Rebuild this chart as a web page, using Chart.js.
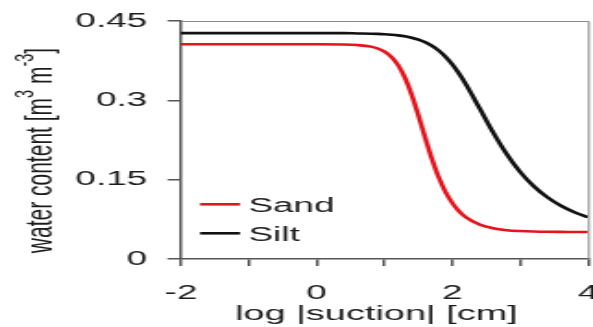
<!DOCTYPE html>
<html><head><meta charset="utf-8">
<style>
html,body{margin:0;padding:0;background:#fff;overflow:hidden}
</style>
<script src="https://cdn.jsdelivr.net/npm/chart.js@4/dist/chart.umd.min.js"></script>
</head><body>
<canvas id="c" width="321" height="327" style="display:block;width:593px;height:327px"></canvas>
<script>
// ---- data ----
const logSuction = [-2, -1, 0, 0.4, 0.6, 0.8, 0.9, 1.0, 1.1, 1.2, 1.3, 1.4, 1.5, 1.6, 1.7, 1.8, 1.9, 2.0, 2.1, 2.2, 2.4, 2.6, 2.8, 3.0, 3.2, 3.4, 3.6, 3.8, 4.0];
const sandTheta  = [0.406, 0.406, 0.406, 0.4056, 0.4045, 0.4015, 0.398, 0.3922, 0.3823, 0.3666, 0.3429, 0.3105, 0.271, 0.2287, 0.1886, 0.154, 0.1265, 0.1056, 0.090, 0.0788, 0.0651, 0.0581, 0.0545, 0.0528, 0.0519, 0.0514, 0.0512, 0.0511, 0.051];
const siltTheta  = [0.427, 0.427, 0.427, 0.427, 0.4265, 0.426, 0.4256, 0.425, 0.4241, 0.4228, 0.421, 0.4184, 0.4148, 0.4099, 0.403, 0.394, 0.3823, 0.3677, 0.3502, 0.3301, 0.2852, 0.2394, 0.1985, 0.1645, 0.1376, 0.1167, 0.1007, 0.0885, 0.0792];
const seriesNames = ['Sand', 'Silt'];
const xTickValues = [-2, -1, 0, 1, 2, 3, 4];
const xTickLabels = ['-2', '', '0', '', '2', '', '4'];
const yTickValues = [0, 0.15, 0.3, 0.45];
const yTickLabels = ['0', '0.15', '0.3', '0.45'];
const xTitle = 'log |suction| [cm]';
const yTitleParts = [['water content [m', false], ['3', true], [' m', false], ['-3', true], [']', false]];

const FONT = "'Liberation Sans', Arial, Helvetica, sans-serif";
const TEXT = '#1c1c1c';
const AXIS = '#555';
const COLORS = ['#e3141c', '#111111'];

const toXY = (ys) => logSuction.map((x, i) => ({x: x, y: ys[i]}));

const decor = {
  id: 'decor',
  afterDraw(chart) {
    const {ctx, chartArea: a} = chart;
    ctx.save();
    ctx.strokeStyle = '#8a8a8a';
    ctx.lineWidth = 1;
    ctx.beginPath();
    ctx.moveTo(a.left, a.top + 0.5);
    ctx.lineTo(a.right + 0.5, a.top + 0.5);
    ctx.lineTo(a.right + 0.5, a.bottom);
    ctx.stroke();

    const rows = [204.3, 233.3];
    chart.data.datasets.forEach((ds, i) => {
      const y = rows[i];
      ctx.strokeStyle = ds.borderColor;
      ctx.lineWidth = 2.6;
      ctx.beginPath();
      ctx.moveTo(108.3, y);
      ctx.lineTo(129.9, y);
      ctx.stroke();
      ctx.fillStyle = TEXT;
      ctx.font = '20px ' + FONT;
      ctx.textAlign = 'left';
      ctx.textBaseline = 'alphabetic';
      ctx.fillText(ds.label, 134.4, y + 7.2);
    });

    ctx.fillStyle = TEXT;
    ctx.font = '20.5px ' + FONT;
    ctx.textAlign = 'left';
    ctx.textBaseline = 'alphabetic';
    ctx.fillText(xTitle, 127.2, 320);

    const F = 21, FS = 14.5;
    let total = 0;
    yTitleParts.forEach(([t, sup]) => {
      ctx.font = (sup ? FS : F) + 'px ' + FONT;
      total += ctx.measureText(t).width;
    });
    ctx.translate(28, 150.5);
    ctx.rotate(-Math.PI / 2);
    let x = -total / 2;
    yTitleParts.forEach(([t, sup]) => {
      ctx.font = (sup ? FS : F) + 'px ' + FONT;
      ctx.fillText(t, x, sup ? -10 : 0);
      x += ctx.measureText(t).width;
    });
    ctx.restore();
  }
};

new Chart(document.getElementById('c'), {
  type: 'line',
  data: {
    datasets: [
      {label: seriesNames[0], data: toXY(sandTheta), borderColor: COLORS[0], borderWidth: 2.6,
       pointRadius: 0, cubicInterpolationMode: 'monotone', fill: false},
      {label: seriesNames[1], data: toXY(siltTheta), borderColor: COLORS[1], borderWidth: 2.6,
       pointRadius: 0, cubicInterpolationMode: 'monotone', fill: false}
    ]
  },
  options: {
    responsive: false,
    animation: false,
    devicePixelRatio: 1,
    layout: {padding: {top: 21, right: 2.7, left: 0, bottom: 0}},
    plugins: {legend: {display: false}, tooltip: {enabled: false}, title: {display: false}},
    scales: {
      x: {
        type: 'linear', min: -2, max: 4,
        afterBuildTicks: (s) => { s.ticks = xTickValues.map(v => ({value: v})); },
        afterFit: (s) => { s.height = 68; s.paddingLeft = 0; s.paddingRight = 0; },
        ticks: {
          autoSkip: false, maxRotation: 0, padding: 15, color: TEXT,
          font: {family: FONT, size: 20},
          callback: (v) => { const i = xTickValues.indexOf(v); return i >= 0 ? xTickLabels[i] : ''; }
        },
        grid: {display: true, drawOnChartArea: false, drawTicks: true, tickLength: 7, color: AXIS, lineWidth: 1.5},
        border: {display: true, color: AXIS, width: 1.5}
      },
      y: {
        type: 'linear', min: 0, max: 0.45,
        afterBuildTicks: (s) => { s.ticks = yTickValues.map(v => ({value: v})); },
        afterFit: (s) => { s.width = 98; s.paddingTop = 0; s.paddingBottom = 0; },
        ticks: {
          autoSkip: false, padding: 11, color: TEXT,
          font: {family: FONT, size: 20},
          callback: (v) => { const i = yTickValues.indexOf(v); return i >= 0 ? yTickLabels[i] : ''; }
        },
        grid: {display: true, drawOnChartArea: false, drawTicks: true, tickLength: 7.3, color: AXIS, lineWidth: 1.5},
        border: {display: true, color: AXIS, width: 1.5}
      }
    }
  },
  plugins: [decor]
});
</script>
</body></html>
